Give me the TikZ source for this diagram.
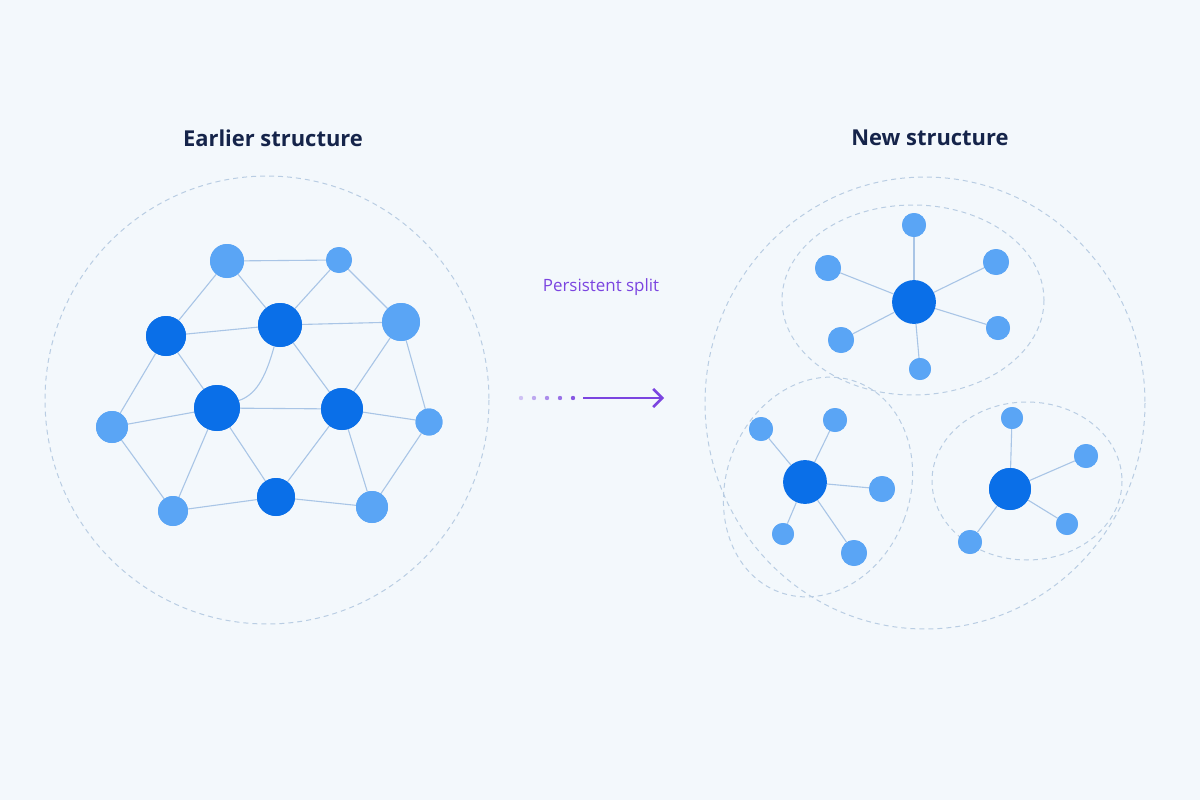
\documentclass[tikz,border=0pt]{standalone}
\usepackage{fontspec}
\setmainfont{Open Sans}
\usetikzlibrary{arrows.meta}
\definecolor{bgc}{HTML}{F3F8FC}
\definecolor{dark}{HTML}{0A6FE8}
\definecolor{light}{HTML}{5AA5F5}
\definecolor{edgec}{HTML}{A9C5E6}
\definecolor{ringc}{HTML}{B9CDE3}
\definecolor{navy}{HTML}{15244A}
\definecolor{violet}{HTML}{7B45E0}
\begin{document}
\begin{tikzpicture}[x=1bp,y=-1bp,
    hub/.style={circle, fill=dark, inner sep=0pt, minimum size=#1},
    leaf/.style={circle, fill=light, inner sep=0pt, minimum size=#1},
    link/.style={edgec, line width=1.1bp},
    ring/.style={ringc, dashed, line width=1bp, dash pattern=on 5bp off 4bp},
    title/.style={font=\fontsize{22}{26}\selectfont\bfseries, text=navy}
]
    \fill[bgc] (0,0) rectangle (1200,800);

    % Titles
    \node[title] (ltitle) at (273,138) {Earlier structure};
    \node[title] (rtitle) at (930,138) {New structure};

    % Earlier structure
    \draw[ring] (267,400) ellipse (222 and 224);
    \node[leaf=34] (a) at (227,261) {};
    \node[leaf=26] (b) at (339,260) {};
    \node[hub=40] (c) at (166,336) {};
    \node[hub=44] (d) at (280,325) {};
    \node[leaf=38] (e) at (401,322) {};
    \node[hub=46] (f) at (217,408) {};
    \node[hub=42] (g) at (342,409) {};
    \node[leaf=32] (h) at (112,427) {};
    \node[leaf=27] (i) at (429,422) {};
    \node[leaf=30] (j) at (173,511) {};
    \node[hub=38] (k) at (276,497) {};
    \node[leaf=32] (l) at (372,507) {};
    \begin{scope}[on background layer/.try]
    \foreach \u/\v in {a/b,a/c,a/d,b/d,b/e,c/d,c/f,c/h,d/e,d/g,e/g,e/i,f/g,f/h,f/j,f/k,g/k,g/i,g/l,h/j,j/k,k/l,l/i}
        \draw[link] (\u) -- (\v);
    \draw[link] (d) .. controls (265,380) and (255,395) .. (f);
    \end{scope}

    % Split arrow
    \foreach \x/\o in {521/30,534/45,547/60,560/75,573/90}
        \fill[violet!\o!bgc] (\x,398) circle (2.2);
    \coordinate (s) at (583,398);
    \coordinate (t) at (664,398);
    \draw[violet, line width=2.6bp, -{Straight Barb[length=9bp,width=18bp]}] (s) -- (t);
    \node[font=\fontsize{17}{20}\selectfont, text=violet] (lbl) at (601,287) {Persistent split};

    % New structure
    \draw[ring] (925,403) ellipse (220 and 226);
    \draw[ring] (913,300) ellipse (131 and 95);
    \draw[ring, rotate around={-20:(818,487)}] (818,487) ellipse (92 and 112);
    \draw[ring] (1027,481) ellipse (95 and 79);

    \node[hub=44] (h1) at (914,302) {};
    \foreach \n/\x/\y/\s in {p1/914/225/24,p2/828/268/26,p3/996/262/26,p4/998/328/24,p5/841/340/26,p6/920/369/22}{
        \node[leaf=\s] (\n) at (\x,\y) {};
        \draw[link] (h1) -- (\n);
    }
    \node[hub=44] (h2) at (805,482) {};
    \foreach \n/\x/\y/\s in {q1/761/429/24,q2/835/420/24,q3/882/489/26,q4/783/534/22,q5/854/553/26}{
        \node[leaf=\s] (\n) at (\x,\y) {};
        \draw[link] (h2) -- (\n);
    }
    \node[hub=42] (h3) at (1010,489) {};
    \foreach \n/\x/\y/\s in {r1/1012/418/22,r2/1086/456/24,r3/1067/524/22,r4/970/542/24}{
        \node[leaf=\s] (\n) at (\x,\y) {};
        \draw[link] (h3) -- (\n);
    }
    % redraw node fills over links
    \foreach \n in {h1,h2,h3} \fill[dark] (\n) circle (21);
    \foreach \n/\r in {p1/12,p2/13,p3/13,p4/12,p5/13,p6/11,q1/12,q2/12,q3/13,q4/11,q5/13,r1/11,r2/12,r3/11,r4/12}
        \fill[light] (\n) circle (\r);
    \foreach \n/\r in {a/17,b/13,e/19,h/16,i/13.5,j/15,l/16} \fill[light] (\n) circle (\r);
    \foreach \n/\r in {c/20,d/22,f/23,g/21,k/19} \fill[dark] (\n) circle (\r);
\end{tikzpicture}
\end{document}
